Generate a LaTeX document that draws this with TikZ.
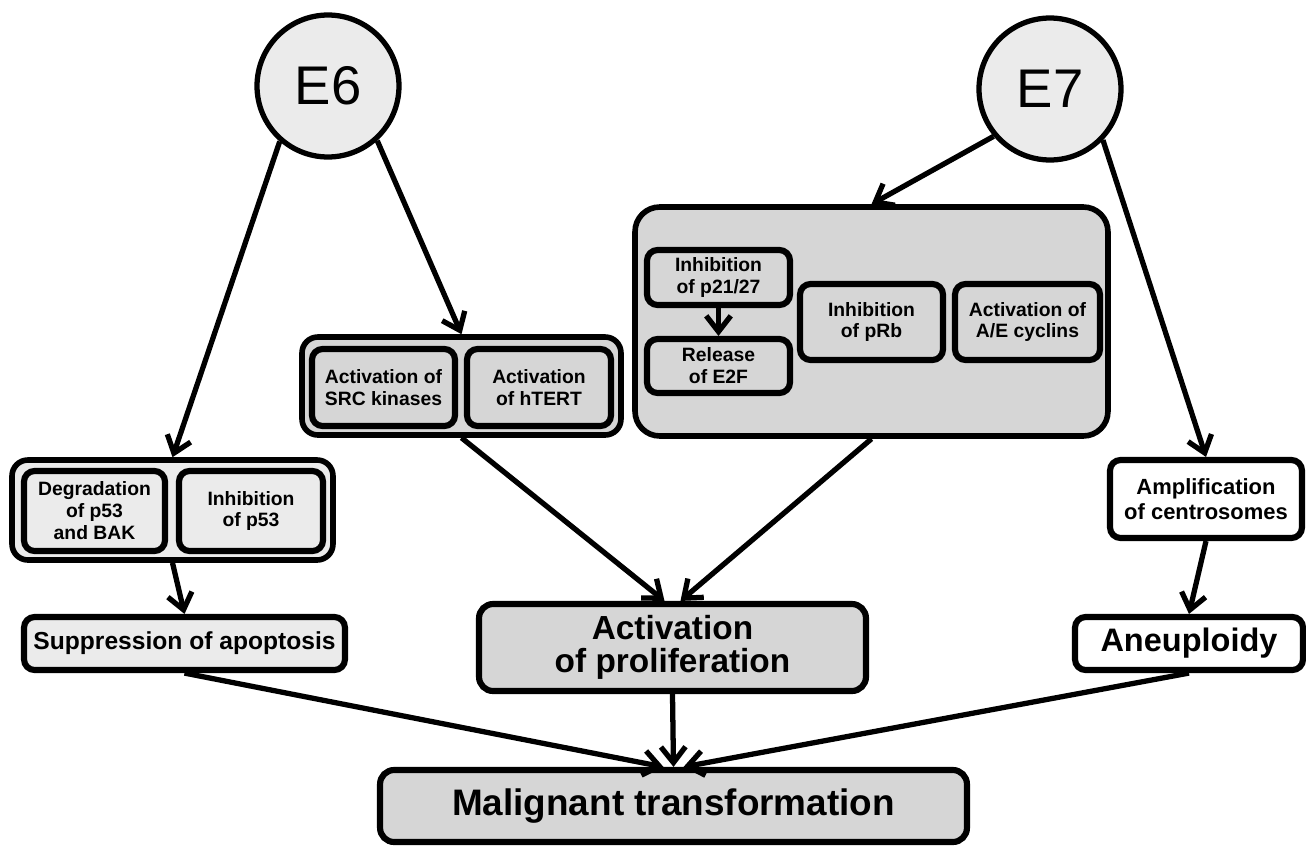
\documentclass[tikz,border=0pt]{standalone}
\usepackage{fontspec}
\setmainfont{Liberation Sans}
\usetikzlibrary{arrows.meta,positioning,calc}
\definecolor{lightbox}{HTML}{EBEBEB}
\definecolor{darkbox}{HTML}{D6D6D6}

\begin{document}
\begin{tikzpicture}[x=0.02cm, y=-0.02cm,
    arr/.style={-{Straight Barb[length=9pt,width=14pt,line width=3pt]},
      line width=3pt},
    box/.style={draw, line width=3.5pt, rounded corners=6pt, inner sep=0pt,
      align=center, font=\bfseries\fontsize{11}{12.5}\selectfont},
    grp/.style={draw, line width=3.2pt, rounded corners=9pt, inner sep=0pt},
    virus/.style={draw, circle, line width=3pt, fill=lightbox,
      minimum size=2.84cm, inner sep=0pt, font=\fontsize{31}{31}\selectfont},
  ]
  \useasboundingbox (0,0) rectangle (1306,846);

  % Oncoproteins
  \node[virus] (E6) at (328,86) {E6};
  \node[virus] (E7) at (1050,89) {E7};

  % Left: p53 branch
  \node[grp, fill=lightbox, minimum width=6.42cm, minimum height=2.0cm]
    (grpA) at (172.5,510) {};
  \node[box, fill=lightbox, minimum width=2.82cm, minimum height=1.6cm]
    (deg) at (94.5,511) {Degradation\\of p53\\and BAK};
  \node[box, fill=lightbox, minimum width=2.88cm, minimum height=1.6cm]
    (inhp53) at (251,511) {Inhibition\\of p53};
  \node[box, fill=lightbox, minimum width=6.42cm, minimum height=1.06cm,
        font=\bfseries\fontsize{14}{16}\selectfont]
    (supp) at (184.5,643.5) {Suppression of apoptosis};

  % Middle: kinases and telomerase
  \node[grp, fill=darkbox, minimum width=6.38cm, minimum height=1.96cm]
    (grpB) at (461.5,386) {};
  \node[box, fill=darkbox, minimum width=2.86cm, minimum height=1.54cm]
    (src) at (383.5,387.5) {Activation of\\SRC kinases};
  \node[box, fill=darkbox, minimum width=2.88cm, minimum height=1.54cm]
    (htert) at (539,387.5) {Activation\\of hTERT};

  % Right: cell cycle box
  \node[grp, fill=darkbox, rounded corners=14pt, minimum width=9.46cm,
        minimum height=4.58cm] (cycle) at (871.5,321.5) {};
  \node[box, fill=darkbox, minimum width=2.86cm, minimum height=1.10cm]
    (p21) at (718.5,277.5) {Inhibition\\of p21/27};
  \node[box, fill=darkbox, minimum width=2.86cm, minimum height=1.08cm]
    (e2f) at (718.5,366) {Release\\of E2F};
  \node[box, fill=darkbox, minimum width=2.86cm, minimum height=1.52cm]
    (prb) at (871.5,322) {Inhibition\\of pRb};
  \node[box, fill=darkbox, minimum width=2.90cm, minimum height=1.52cm]
    (cyc) at (1027.5,322) {Activation of\\A/E cyclins};

  % Far right: centrosomes
  \node[box, fill=white, minimum width=3.84cm, minimum height=1.56cm,
        font=\bfseries\fontsize{12.5}{14}\selectfont]
    (amp) at (1206,499) {Amplification\\of centrosomes};
  \node[box, fill=white, minimum width=4.56cm, minimum height=1.06cm,
        font=\bfseries\fontsize{18.5}{20}\selectfont]
    (aneu) at (1189,643.5) {Aneuploidy};

  % Outcomes
  \node[box, fill=darkbox, rounded corners=8pt, minimum width=7.74cm,
        minimum height=1.74cm, font=\bfseries\fontsize{19}{19}\selectfont]
    (prolif) at (672.5,647.5) {Activation\\of proliferation};
  \node[box, fill=darkbox, rounded corners=8pt, minimum width=11.74cm,
        minimum height=1.44cm, font=\bfseries\fontsize{21}{22}\selectfont]
    (mal) at (673.5,806) {Malignant transformation};

  % Arrows
  \draw[arr] (E6.229) -- (grpA.north);
  \draw[arr] (E6.312) -- (grpB.north);
  \draw[arr] (E7.220) -- (cycle.north);
  \draw[arr] (E7.316) -- (amp.north);
  \draw[arr] (p21) -- (e2f);
  \draw[arr] (grpA.south) -- (supp.north);
  \draw[arr] (grpB.south) -- ($(prolif.north)+(-8,0)$);
  \draw[arr] (cycle.south) -- ($(prolif.north)+(8,0)$);
  \draw[arr] (amp.south) -- (aneu.north);
  \draw[arr] (supp.south) -- ($(mal.north)+(-10,0)$);
  \draw[arr] (prolif.south) -- (mal.north);
  \draw[arr] (aneu.south) -- ($(mal.north)+(10,0)$);

\end{tikzpicture}
\end{document}
